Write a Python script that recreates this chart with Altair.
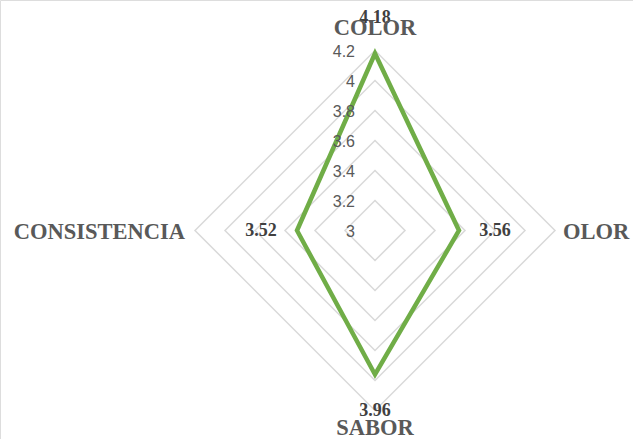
import math
import altair as alt
import pandas as pd

# ---- data ----
categories = ["COLOR", "OLOR", "SABOR", "CONSISTENCIA"]
values = [4.18, 3.56, 3.96, 3.52]
levels = [3.2, 3.4, 3.6, 3.8, 4.0, 4.2]
tick_values = [3.0, 3.2, 3.4, 3.6, 3.8, 4.0, 4.2]
tick_labels = ["3", "3.2", "3.4", "3.6", "3.8", "4", "4.2"]
axis_min = 3.0

series_df = pd.DataFrame({"category": categories, "value": values, "idx": list(range(len(categories)))})
ring_df = pd.DataFrame(
    [{"level": lv, "idx": i} for lv in levels for i in range(len(categories))]
)
tick_df = pd.DataFrame({"value": tick_values, "label": tick_labels})
cat_df = pd.DataFrame({"category": categories, "idx": list(range(len(categories))), "outer": max(levels)})

W, H = 633, 439
X_DOM = [-2.5, 1.72]
Y_DOM = [-1.39, 1.5367]

def xe():
    return alt.X("px:Q", scale=alt.Scale(domain=X_DOM, nice=False, zero=False), axis=None)

def ye():
    return alt.Y("py:Q", scale=alt.Scale(domain=Y_DOM, nice=False, zero=False), axis=None)

def polar(chart, rexpr):
    return chart.transform_calculate(
        ang=f"datum.idx * PI / 2", rr=rexpr
    ).transform_calculate(
        px="datum.rr * sin(datum.ang)", py="datum.rr * cos(datum.ang)"
    )

rings = polar(alt.Chart(ring_df), f"datum.level - {axis_min}").mark_line(
    interpolate="linear-closed", color="#D9D9D9", strokeWidth=1.5
).encode(x=xe(), y=ye(), detail="level:N", order="idx:Q")

line = polar(alt.Chart(series_df), f"datum.value - {axis_min}").mark_line(
    interpolate="linear-closed", color="#70AD47", strokeWidth=4.5, strokeJoin="miter"
).encode(x=xe(), y=ye(), order="idx:Q")

ticks = alt.Chart(tick_df).transform_calculate(
    px="0", py=f"datum.value - {axis_min}"
).mark_text(
    align="right", baseline="middle", dx=-20, dy=1, font="Liberation Sans", fontSize=16, color="#595959"
).encode(x=xe(), y=ye(), text="label:N")

dlabels = polar(alt.Chart(series_df), f"datum.value - {axis_min} + 0.24").transform_calculate(
    lab="format(datum.value, '.2f')"
).mark_text(
    align="center", baseline="middle", font="Liberation Serif", fontWeight="bold", fontSize=18, color="#404040"
).encode(x=xe(), y=ye(), text="lab:N")

def cat_layer(i, **kw):
    return polar(alt.Chart(cat_df).transform_filter(f"datum.idx == {i}"), f"datum.outer - {axis_min}").mark_text(
        font="Liberation Serif", fontWeight="bold", fontSize=22.5, color="#595959", baseline="middle", **kw
    ).encode(x=xe(), y=ye(), text="category:N")

cats = [
    cat_layer(0, align="center", dy=-23),
    cat_layer(1, align="left", dx=8, dy=1),
    cat_layer(2, align="center", dy=17),
    cat_layer(3, align="right", dx=-10, dy=1),
]

chart = alt.layer(rings, line, ticks, dlabels, *cats).properties(
    width=W, height=H, autosize="none", padding=0
).configure_view(stroke=None).configure(background="white")

chart.save("out.html", embed_options={"renderer": "svg", "actions": False})
